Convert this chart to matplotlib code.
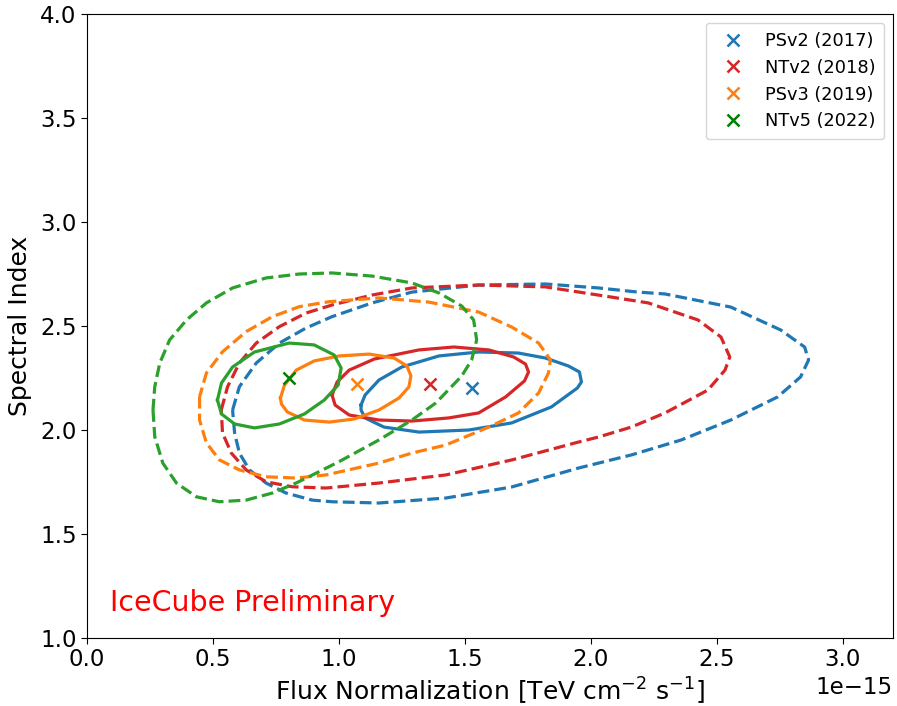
import numpy as np
import matplotlib
matplotlib.use("Agg")
import matplotlib.pyplot as plt
from matplotlib.ticker import MultipleLocator

SCALE = 1e-15

labels = ["PSv2 (2017)", "NTv2 (2018)", "PSv3 (2019)", "NTv5 (2022)"]
colors = ["tab:blue", "tab:red", "tab:orange", "tab:green"]
marker_colors = ["tab:blue", "tab:red", "tab:orange", "green"]

# best-fit points (flux in 1e-15 units, spectral index)
best_flux = [1.53, 1.36, 1.07, 0.80]
best_gamma = [2.20, 2.22, 2.22, 2.25]

# 1-sigma (solid) contours
psv2_solid_x = [1.088, 1.104, 1.159, 1.250, 1.397, 1.555, 1.713, 1.820, 1.911, 1.955, 1.963, 1.947, 1.844, 1.686, 1.516, 1.318, 1.179, 1.104, 1.088]
psv2_solid_y = [2.120, 2.168, 2.240, 2.303, 2.356, 2.375, 2.370, 2.346, 2.308, 2.279, 2.231, 2.202, 2.111, 2.034, 2.000, 1.990, 2.014, 2.058, 2.096]

ntv2_solid_x = [0.973, 0.993, 1.041, 1.140, 1.318, 1.456, 1.595, 1.694, 1.741, 1.753, 1.737, 1.662, 1.555, 1.436, 1.290, 1.159, 1.041, 0.985]
ntv2_solid_y = [2.168, 2.231, 2.288, 2.341, 2.385, 2.399, 2.385, 2.351, 2.317, 2.279, 2.236, 2.159, 2.082, 2.058, 2.043, 2.048, 2.072, 2.120]

psv3_solid_x = [0.768, 0.784, 0.831, 0.902, 1.001, 1.120, 1.219, 1.270, 1.286, 1.278, 1.239, 1.159, 1.061, 0.962, 0.863, 0.795, 0.772]
psv3_solid_y = [2.154, 2.216, 2.288, 2.332, 2.356, 2.365, 2.346, 2.308, 2.260, 2.207, 2.154, 2.096, 2.053, 2.038, 2.048, 2.087, 2.125]

ntv5_solid_x = [0.518, 0.534, 0.578, 0.665, 0.803, 0.902, 0.981, 1.009, 0.997, 0.942, 0.863, 0.764, 0.665, 0.586, 0.534]
ntv5_solid_y = [2.144, 2.226, 2.303, 2.375, 2.418, 2.409, 2.361, 2.298, 2.216, 2.144, 2.077, 2.029, 2.010, 2.029, 2.077]

# 90% (dashed) contours
psv2_dash_x = [0.578, 0.605, 0.672, 0.764, 0.869, 0.973, 1.132, 1.290, 1.555, 1.820, 2.030, 2.188, 2.295, 2.556, 2.754, 2.849, 2.865, 2.833, 2.742, 2.556, 2.359, 2.161, 1.951, 1.686, 1.425, 1.159, 0.973, 0.894, 0.790, 0.711, 0.645, 0.605, 0.586]
psv2_dash_y = [2.096, 2.208, 2.322, 2.418, 2.490, 2.545, 2.611, 2.663, 2.697, 2.702, 2.683, 2.663, 2.654, 2.591, 2.481, 2.399, 2.337, 2.255, 2.159, 2.048, 1.952, 1.880, 1.817, 1.726, 1.673, 1.649, 1.655, 1.663, 1.697, 1.745, 1.808, 1.889, 1.986]

ntv2_dash_x = [0.533, 0.558, 0.605, 0.672, 0.764, 0.869, 0.973, 1.132, 1.290, 1.555, 1.820, 2.082, 2.228, 2.426, 2.517, 2.552, 2.533, 2.465, 2.295, 2.161, 2.030, 1.951, 1.686, 1.425, 1.159, 0.949, 0.815, 0.711, 0.632, 0.573, 0.538]
ntv2_dash_y = [2.096, 2.208, 2.322, 2.418, 2.497, 2.562, 2.601, 2.649, 2.683, 2.697, 2.688, 2.639, 2.611, 2.529, 2.447, 2.351, 2.288, 2.192, 2.082, 2.014, 1.966, 1.942, 1.856, 1.784, 1.745, 1.721, 1.727, 1.751, 1.808, 1.889, 1.986]

psv3_dash_x = [0.447, 0.447, 0.474, 0.526, 0.605, 0.711, 0.830, 0.949, 1.159, 1.290, 1.425, 1.595, 1.713, 1.793, 1.832, 1.840, 1.793, 1.686, 1.555, 1.357, 1.159, 0.962, 0.843, 0.736, 0.632, 0.538, 0.474]
psv3_dash_y = [2.160, 2.048, 1.938, 1.856, 1.808, 1.775, 1.769, 1.784, 1.841, 1.889, 1.928, 2.014, 2.082, 2.178, 2.274, 2.337, 2.418, 2.495, 2.567, 2.615, 2.635, 2.617, 2.593, 2.545, 2.473, 2.376, 2.274]

ntv5_dash_x = [0.262, 0.269, 0.301, 0.355, 0.434, 0.526, 0.632, 0.736, 0.830, 0.922, 1.001, 1.159, 1.290, 1.385, 1.488, 1.527, 1.547, 1.535, 1.488, 1.397, 1.290, 1.132, 0.973, 0.843, 0.711, 0.578, 0.474, 0.395, 0.328, 0.289, 0.269]
ntv5_dash_y = [2.096, 1.968, 1.841, 1.745, 1.679, 1.655, 1.663, 1.697, 1.745, 1.800, 1.848, 1.952, 2.048, 2.130, 2.260, 2.337, 2.433, 2.529, 2.596, 2.659, 2.707, 2.740, 2.755, 2.750, 2.731, 2.683, 2.611, 2.529, 2.433, 2.322, 2.208]

solid = [(psv2_solid_x, psv2_solid_y), (ntv2_solid_x, ntv2_solid_y),
         (psv3_solid_x, psv3_solid_y), (ntv5_solid_x, ntv5_solid_y)]
dashed = [(psv2_dash_x, psv2_dash_y), (ntv2_dash_x, ntv2_dash_y),
          (psv3_dash_x, psv3_dash_y), (ntv5_dash_x, ntv5_dash_y)]

fig = plt.figure(figsize=(8.97, 7.06), dpi=100)
ax = fig.add_axes([87 / 897, 1 - 638 / 706, (893 - 87) / 897, (638 - 14) / 706])


def closed(xs, ys):
    xs = np.asarray(xs) * SCALE
    ys = np.asarray(ys)
    return np.append(xs, xs[0]), np.append(ys, ys[0])


for (sx, sy), (dx, dy), c in zip(solid, dashed, colors):
    x, y = closed(sx, sy)
    ax.plot(x, y, color=c, lw=2.3, solid_joinstyle="round")
    x, y = closed(dx, dy)
    ax.plot(x, y, color=c, lw=2.3, ls="--", dash_joinstyle="round")

for f, g, c, lab in zip(best_flux, best_gamma, marker_colors, labels):
    ax.plot([f * SCALE], [g], ls="none", marker="x", ms=9, mew=1.8, color=c, label=lab)

ax.set_xlim(0, 3.2e-15)
ax.set_ylim(1.0, 4.0)
ax.xaxis.set_major_locator(MultipleLocator(0.5e-15))
ax.yaxis.set_major_locator(MultipleLocator(0.5))
ax.tick_params(labelsize=16.5, length=4)
ax.xaxis.get_offset_text().set_fontsize(16.5)

ax.set_xlabel(r"Flux Normalization [TeV cm$^{-2}$ s$^{-1}$]", fontsize=18, labelpad=3)
ax.set_ylabel("Spectral Index", fontsize=18, labelpad=6)

ax.text(0.09e-15, 1.13, "IceCube Preliminary", color="red", fontsize=20.5)

ax.legend(loc="upper right", fontsize=12.8, handletextpad=0.8, borderpad=0.5)

fig.savefig("out.png", dpi=100)
